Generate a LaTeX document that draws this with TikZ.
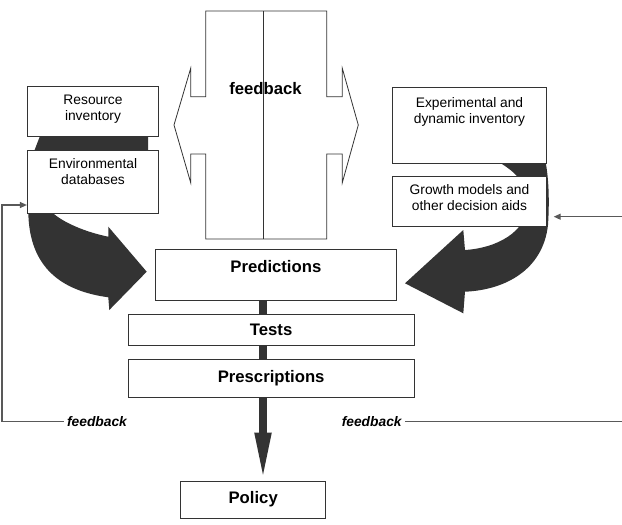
\documentclass[tikz,border=0pt]{standalone}
\usepackage{fontspec}
\setmainfont{Liberation Sans}
\usetikzlibrary{positioning,arrows.meta,backgrounds}
\definecolor{darkarrow}{HTML}{333333}

\begin{document}
\begin{tikzpicture}[x=1pt, y=-1pt,
		box/.style = {draw=black!80, line width=0.8pt, fill=white, anchor=north, inner sep=0pt, align=center},
		small/.style = {font=\fontsize{13.8}{16}\selectfont},
		big/.style = {font=\bfseries\fontsize{16.7}{20}\selectfont},
		fbline/.style = {draw=black!65, line width=1.2pt},
		tip/.style = {-{Triangle[length=7pt,width=6pt]}}]
		\useasboundingbox (0,0) rectangle (622,525);
		\node[box, small, minimum width=131.4pt, minimum height=50.3pt, text height=34.3pt, text depth=16pt] (res) at (93,85.7) {Resource\\inventory};
		\node[box, small, minimum width=131.4pt, minimum height=63.3pt, text height=35pt, text depth=28.3pt] (env) [below=12.7pt of res] {Environmental\\databases};
		\node[box, small, minimum width=154.4pt, minimum height=75.4pt, text height=35.4pt, text depth=40pt] (exper) at (469.5,87.3) {Experimental and\\dynamic inventory};
		\node[box, small, minimum width=154.4pt, minimum height=50pt, text height=34pt, text depth=16pt] (growth) [below=12.3pt of exper] {Growth models and\\other decision aids};
		\node[box, big, minimum width=241.7pt, minimum height=50.7pt, text height=22.7pt, text depth=28pt] (pred) at (275.85,249.3) {Predictions};
		\node[box, big, minimum width=285.7pt, minimum height=31.6pt, text height=21.6pt, text depth=10pt] (tests) [below=12.7pt of pred, xshift=-4.7pt] {Tests};
		\node[box, big, minimum width=285.7pt, minimum height=38pt, text height=22.7pt, text depth=15.3pt] (presc) [below=13pt of tests] {Prescriptions};
		\node[box, big, minimum width=145pt, minimum height=37.6pt, text height=22pt, text depth=15.6pt] (policy) at (253.2,480.7) {Policy};
		\draw[black!80, line width=0.8pt] (205.7,11) -- (326.7,11) -- (326.7,96.7) -- (342.3,96.7) -- (342.3,68.3) -- (358.3,125) -- (342.3,182.7) -- (342.3,154) -- (326.7,154) -- (326.7,239) -- (205.7,239) -- (205.7,154) -- (190.7,154) -- (190.7,182.7) -- (174,125) -- (190.7,68.3) -- (190.7,96.7) -- (205.7,96.7) -- cycle;
		\draw[black!80, line width=0.8pt] (263.3,11) -- (263.3,239);
		\node[big] (topfb) at (265.5,88.3) {feedback};
		\node[font=\bfseries\itshape\fontsize{13.8}{16}\selectfont] (lfb) at (97,421.7) {feedback};
		\node[font=\bfseries\itshape\fontsize{13.8}{16}\selectfont] (rfb) at (371.7,421.7) {feedback};
		\coordinate (lturn) at (2,205);
		\coordinate (rin) at (622,216.7);
		\coordinate (rout) at (622,421.7);
		\draw[fbline, tip] (lfb.west) -| (lturn) -- (env.west |- lturn);
		\draw[fbline, tip, shorten >=6.6pt] (rin) -- (growth.east |- rin);
		\draw[fbline] (rfb.east) -- (rout);
		\begin{scope}[on background layer]
			\fill[darkarrow] (44.2,125) -- (148,125) -- (148,155) -- (32.7,155) -- cycle;
			\fill[darkarrow] (28.3,205) -- (51.7,205) -- (51.7,212) .. controls (62,222) and (85,232) .. (108.3,236.7) -- (108.3,226.7) -- (146.7,271.7) -- (109.3,310) -- (108.3,297.3) .. controls (62,291) and (29,268) .. (28.3,212) -- cycle;
			\fill[darkarrow] (489,157) .. controls (510,167) and (530,182) .. (528,205) .. controls (526,232) and (497,248) .. (465,250) -- (463.3,230) -- (405,283.3) -- (463.3,313.3) -- (465,291.7) .. controls (505,290) and (543,270) .. (548,225) .. controls (550,195) and (548,170) .. (544,155) -- cycle;
			\draw[darkarrow, line width=7.5pt, -{Triangle[length=48pt,width=15pt]}] ([xshift=-12.85pt]pred.south) -- ([xshift=9.8pt]policy.north);
		\end{scope}
	\end{tikzpicture}
\end{document}
